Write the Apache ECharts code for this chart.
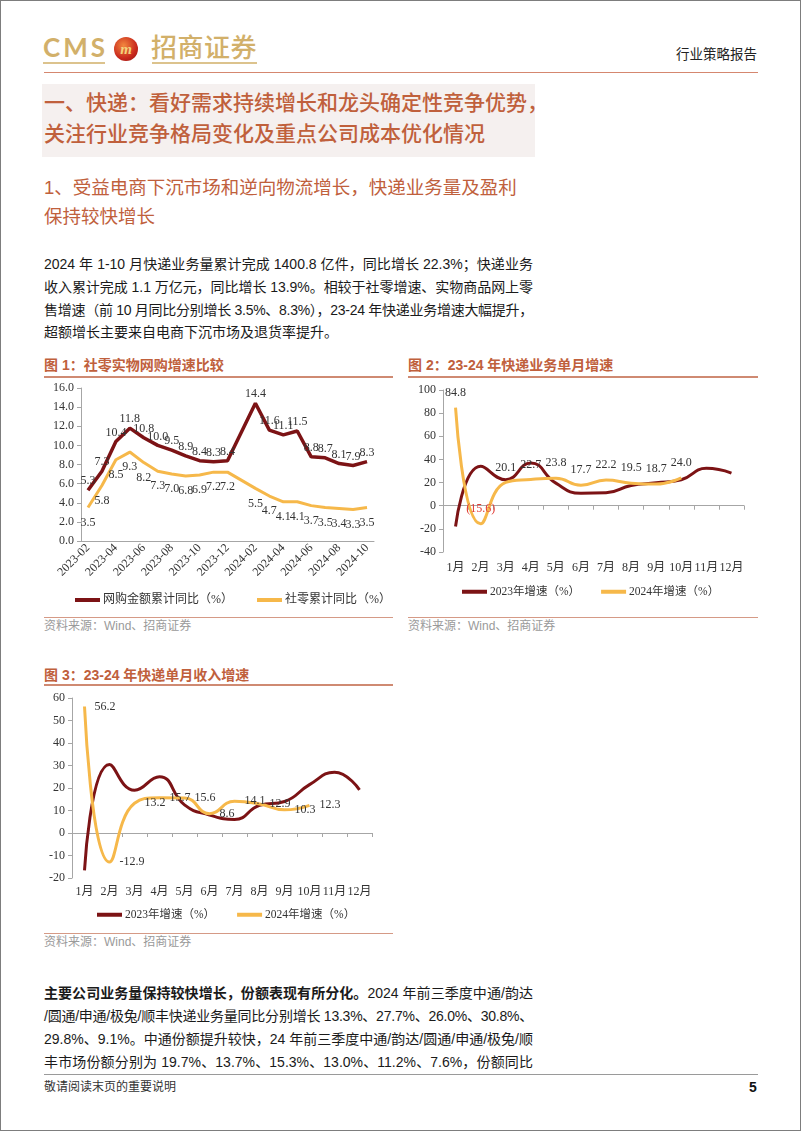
<!DOCTYPE html>
<html><head><meta charset="utf-8">
<script src="https://cdn.jsdelivr.net/npm/echarts@6/dist/echarts.min.js"></script>
<style>
html,body{margin:0;padding:0;background:#fff;}
#page{position:relative;width:802px;height:1133px;overflow:hidden;font-family:"Liberation Sans","Noto Sans CJK SC",sans-serif;color:#222;}
.abs{position:absolute;white-space:nowrap;}
.frame{position:absolute;left:0;top:0;width:799px;height:1129px;border:1px solid #7d7d7d;}
.hl{position:absolute;}
.sec{color:#c0603c;font-size:21px;line-height:30px;font-weight:500;}
.sub{color:#c0603c;font-size:18.5px;line-height:28px;}
.body{font-size:14px;line-height:22px;color:#1a1a1a;}
.ftitle{color:#c0603c;font-size:14px;line-height:20px;font-weight:700;}
.src{color:#9a9a9a;font-size:12px;line-height:16px;}
.chart{position:absolute;}
</style></head>
<body>
<div id="page">
<div class="frame"></div>

<!-- header -->
<div class="abs" style="left:43px;top:32px;font-family:Lato,'Liberation Sans';font-weight:700;font-size:26px;line-height:30px;letter-spacing:3px;color:#d2b06a;">CMS</div>
<div class="abs" style="left:114px;top:37px;width:24px;height:24px;border-radius:50%;background:radial-gradient(circle at 40% 35%,#f2873e,#c9291d 60%,#8c1410);text-align:center;font:italic 700 15px/24px 'Liberation Serif';color:#f4d27c;">m</div>
<div class="abs" style="left:151px;top:30px;font-family:'Noto Sans CJK SC';font-weight:500;font-size:26px;line-height:32px;letter-spacing:0.5px;color:#d2b06a;">招商证券</div>
<div class="hl" style="left:43px;top:62px;width:62px;height:2px;background:#dcc38d;"></div>
<div class="hl" style="left:152px;top:62px;width:105px;height:2px;background:#dcc38d;"></div>
<div class="abs" style="left:676px;top:46px;font-size:13.5px;line-height:18px;color:#222;">行业策略报告</div>
<div class="hl" style="left:44px;top:72px;width:714px;height:1px;background:#d5876f;"></div>

<!-- section heading -->
<div class="hl" style="left:42px;top:84px;width:493px;height:73px;background:#f5f0ef;"></div>
<div class="abs sec" style="left:44px;top:88px;">一、快递：看好需求持续增长和龙头确定性竞争优势，</div>
<div class="abs sec" style="left:44px;top:119px;">关注行业竞争格局变化及重点公司成本优化情况</div>

<div class="abs sub" style="left:44px;top:174px;">1、受益电商下沉市场和逆向物流增长，快递业务量及盈利</div>
<div class="abs sub" style="left:44px;top:203px;">保持较快增长</div>

<!-- paragraph 1 -->
<div class="abs body jl" data-w="489" style="left:44px;top:253px;">2024 年 1-10 月快递业务量累计完成 1400.8 亿件，同比增长 22.3%；快递业务</div>
<div class="abs body jl" data-w="489" style="left:44px;top:276px;">收入累计完成 1.1 万亿元，同比增长 13.9%。相较于社零增速、实物商品网上零</div>
<div class="abs body jl" data-w="489" style="left:44px;top:299px;">售增速（前 10 月同比分别增长 3.5%、8.3%），23-24 年快递业务增速大幅提升，</div>
<div class="abs body" style="left:44px;top:321px;">超额增长主要来自电商下沉市场及退货率提升。</div>

<!-- figure titles -->
<div class="abs ftitle" style="left:44px;top:355px;">图 1：社零实物网购增速比较</div>
<div class="hl" style="left:44px;top:376px;width:349px;height:2px;background:#cf8a72;"></div>
<div class="abs ftitle" style="left:408px;top:355px;">图 2：23-24 年快递业务单月增速</div>
<div class="hl" style="left:408px;top:376px;width:350px;height:2px;background:#cf8a72;"></div>

<div id="c1" class="chart" style="left:44px;top:380px;width:350px;height:236px;"></div>
<div id="c2" class="chart" style="left:408px;top:380px;width:350px;height:236px;"></div>

<div class="hl" style="left:44px;top:617px;width:349px;height:1px;background:#d59a86;"></div>
<div class="abs src" style="left:44px;top:618px;">资料来源：Wind、招商证券</div>
<div class="hl" style="left:408px;top:617px;width:350px;height:1px;background:#d59a86;"></div>
<div class="abs src" style="left:408px;top:618px;">资料来源：Wind、招商证券</div>

<div class="abs ftitle" style="left:44px;top:665px;">图 3：23-24 年快递单月收入增速</div>
<div class="hl" style="left:44px;top:684px;width:349px;height:2px;background:#cf8a72;"></div>
<div id="c3" class="chart" style="left:44px;top:688px;width:350px;height:243px;"></div>
<div class="hl" style="left:44px;top:933px;width:349px;height:1px;background:#d59a86;"></div>
<div class="abs src" style="left:44px;top:934px;">资料来源：Wind、招商证券</div>

<!-- paragraph 2 -->
<div class="abs body jl" data-w="489" style="left:44px;top:982px;"><b>主要公司业务量保持较快增长，份额表现有所分化。</b>2024 年前三季度中通/韵达</div>
<div class="abs body jl" data-w="489" style="left:44px;top:1005px;">/圆通/申通/极兔/顺丰快递业务量同比分别增长 13.3%、27.7%、26.0%、30.8%、</div>
<div class="abs body jl" data-w="489" style="left:44px;top:1028px;">29.8%、9.1%。中通份额提升较快，24 年前三季度中通/韵达/圆通/申通/极兔/顺</div>
<div class="abs body jl" data-w="489" style="left:44px;top:1051px;">丰市场份额分别为 19.7%、13.7%、15.3%、13.0%、11.2%、7.6%，份额同比</div>

<!-- footer -->
<div class="hl" style="left:44px;top:1074px;width:714px;height:1px;background:#9a9a9a;"></div>
<div class="abs" style="left:44px;top:1079px;font-size:12px;line-height:16px;color:#333;">敬请阅读末页的重要说明</div>
<div class="abs" style="left:749px;top:1078px;font-size:14px;line-height:18px;font-weight:700;color:#111;">5</div>
</div>

<script>
// ---------- data ----------
const fig1Months = ['2023-02','2023-03','2023-04','2023-05','2023-06','2023-07','2023-08','2023-09','2023-10','2023-11','2023-12','2024-01','2024-02','2024-03','2024-04','2024-05','2024-06','2024-07','2024-08','2024-09','2024-10'];
const fig1Online = [5.3,7.3,10.4,11.8,10.8,10.0,9.5,8.9,8.4,8.3,8.4,null,14.4,11.6,11.1,11.5,8.8,8.7,8.1,7.9,8.3];
const fig1Retail = [3.5,5.8,8.5,9.3,8.2,7.3,7.0,6.8,6.9,7.2,7.2,null,5.5,4.7,4.1,4.1,3.7,3.5,3.4,3.3,3.5];
const fig1Names = ['网购金额累计同比（%）','社零累计同比（%）'];

const monthLabels = ['1月','2月','3月','4月','5月','6月','7月','8月','9月','10月','11月','12月'];
const vol2023 = [-18,34,22.5,37,19.5,10.8,11.2,17.5,19.8,22.5,32.3,28.2];
const vol2024 = [84.8,-15.6,20.1,22.7,23.8,17.7,22.2,19.5,18.7,24.0];
const rev2023 = [-16.6,30.5,19.0,25.0,12.5,8.0,6.0,12.3,14.0,21.5,27.0,19.2];
const rev2024 = [56.2,-12.9,13.2,15.7,15.6,8.6,14.1,12.9,10.3,12.3];
const yearNames = ['2023年增速（%）','2024年增速（%）'];

// ---------- styles ----------
const SERIF = '"Liberation Serif","Times New Roman","Noto Sans CJK SC",serif';
const RED = '#7c1315', YEL = '#f6b84a', AX = '#a6a6a6', TXT = '#333';

function yAxisBase(min,max,interval,fmt){
  return {type:'value',min:min,max:max,interval:interval,
    axisLine:{show:true,lineStyle:{color:AX}},
    axisTick:{show:true,length:4,lineStyle:{color:AX}},
    splitLine:{show:false},
    axisLabel:{fontFamily:SERIF,fontSize:12,color:TXT,margin:7,formatter:fmt}};
}
function legendBase(top,left,gap,fs){
  return {top:top,left:left,width:330,padding:0,itemWidth:25,itemHeight:4,itemGap:gap,icon:'rect',
    textStyle:{fontFamily:SERIF,fontSize:fs,color:TXT,padding:[0,0,0,-2]}};
}

// chart 1
const c1 = echarts.init(document.getElementById('c1'),null,{renderer:'canvas'});
c1.setOption({
  animation:false,
  grid:{left:37,top:8,width:293,height:153},
  legend:Object.assign(legendBase(214,31,24,12),{data:fig1Names}),
  xAxis:{type:'category',data:fig1Months,boundaryGap:true,
    axisLine:{lineStyle:{color:AX}},axisTick:{show:false},
    axisLabel:{interval:1,rotate:45,fontFamily:SERIF,fontSize:12,color:TXT,margin:5}},
  yAxis:yAxisBase(0,16,2,v=>v.toFixed(1)),
  series:[
    {name:fig1Names[0],type:'line',data:fig1Online,connectNulls:true,symbol:'circle',symbolSize:0.01,
      lineStyle:{width:3.5,color:RED},itemStyle:{color:RED},
      label:{show:true,position:'top',distance:3,fontFamily:SERIF,fontSize:12,color:TXT,
        formatter:p=>p.value==null?'':Number(p.value).toFixed(1)}},
    {name:fig1Names[1],type:'line',data:fig1Retail,connectNulls:true,symbol:'circle',symbolSize:0.01,
      lineStyle:{width:3,color:YEL},itemStyle:{color:YEL},
      label:{show:true,position:'bottom',distance:9,fontFamily:SERIF,fontSize:12,color:TXT,
        formatter:p=>p.value==null?'':Number(p.value).toFixed(1)}}
  ]
});

function monthChart(el,grid,ymin,ymax,yint,d23,d24,labelCfg,legTop,legLeft,legGap,labelMargin){
  const ch = echarts.init(document.getElementById(el),null,{renderer:'canvas'});
  ch.setOption({
    animation:false,
    grid:grid,
    legend:Object.assign(legendBase(legTop,legLeft,legGap,11.5),{data:yearNames}),
    xAxis:[
      {type:'category',data:monthLabels,position:'bottom',boundaryGap:true,
        axisLine:{show:false,onZero:false},axisTick:{show:false},
        axisLabel:{interval:0,fontFamily:SERIF,fontSize:12,color:TXT,margin:labelMargin}},
      {type:'category',data:monthLabels,position:'bottom',boundaryGap:true,
        axisLine:{show:true,onZero:true,lineStyle:{color:AX}},
        axisTick:{show:true,interval:0,length:4,lineStyle:{color:AX}},axisLabel:{show:false}}
    ],
    yAxis:yAxisBase(ymin,ymax,yint,v=>String(v)),
    series:[
      {name:yearNames[0],type:'line',data:d23,xAxisIndex:0,smooth:0.5,symbol:'none',
        lineStyle:{width:3,color:RED},itemStyle:{color:RED}},
      {name:yearNames[1],type:'line',data:d24,xAxisIndex:0,smooth:0.5,symbol:'circle',symbolSize:0.01,
        lineStyle:{width:3,color:YEL},itemStyle:{color:YEL},label:labelCfg}
    ]
  });
}

monthChart('c2',{left:35,top:10,width:301,height:162},-40,100,20,vol2023,vol2024,
  {show:true,position:'top',distance:9,fontFamily:SERIF,fontSize:12,color:TXT,
    formatter:p=>p.value<0?'{neg|('+Math.abs(p.value).toFixed(1)+')}':Number(p.value).toFixed(1),
    rich:{neg:{color:'#e03a33',fontFamily:SERIF,fontSize:12}}},
  206,54,21,10);

monthChart('c3',{left:28,top:10,width:300,height:180},-20,60,10,rev2023,rev2024,
  {show:true,position:'right',distance:10,fontFamily:SERIF,fontSize:12,color:TXT,
    formatter:p=>Number(p.value).toFixed(1)},
  221,53,22,8);

// ---------- justified text lines ----------
document.querySelectorAll('.jl').forEach(el=>{
  const target = parseFloat(el.dataset.w);
  const w = el.getBoundingClientRect().width;
  if (w > target) {
    const n = el.textContent.length;
    el.style.letterSpacing = ((target - w) / n) + 'px';
  }
  el.style.width = target + 'px';
  el.style.textAlign = 'justify';
  el.style.textAlignLast = 'justify';
});
</script>
</body></html>
